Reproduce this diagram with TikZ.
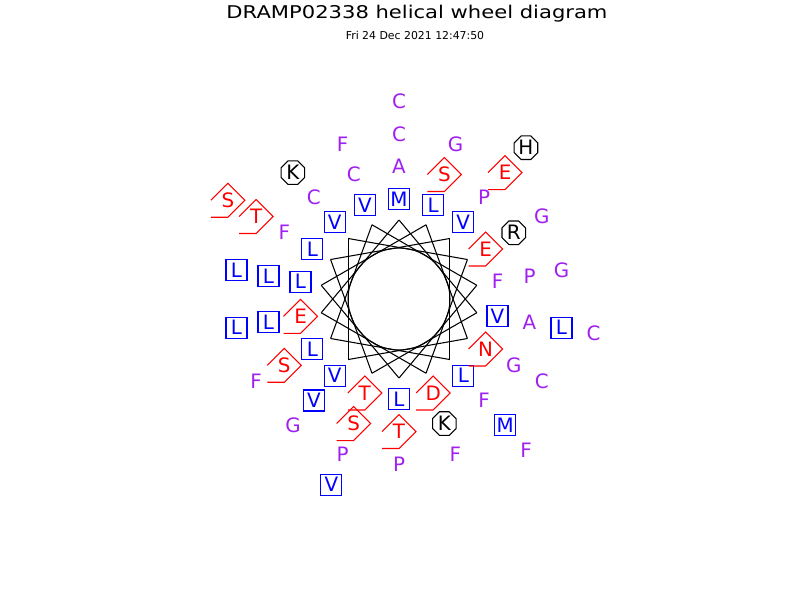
\documentclass[tikz,border=0pt]{standalone}
\usepackage{fontspec}
\setmainfont{DejaVu Sans}
\usepackage{tikz}
\usetikzlibrary{shapes.geometric}
\definecolor{resblue}{RGB}{0,0,255}
\definecolor{resred}{RGB}{255,0,0}
\definecolor{respurple}{RGB}{160,32,240}
\tikzset{
  every res/.style={
    font=\fontsize{11.3}{12}\selectfont,inner sep=0pt,line width=0.6pt,
  },
  hydres/.style={every res,draw=resblue,text=resblue,rectangle,minimum size=0.42cm},
  polres/.style={every res,text=resred},
  chgres/.style={every res,draw=black,text=black,regular polygon,regular polygon sides=8,minimum size=0.51cm},
  othres/.style={every res,text=respurple},
  polline/.style={draw=resred,line width=0.6pt},
}

\begin{document}
\begin{tikzpicture}[x=0.02cm,y=-0.02cm]
	\useasboundingbox (0,0) rectangle (800,600);
	\node (title) at (417,14) {\fontsize{10}{12}\selectfont\scalebox{1.2}[1]{DRAMP02338 helical wheel diagram}};
	\node (stamp) at (415,35) {\fontsize{6.2}{7}\selectfont Fri 24 Dec 2021 12:47:50};
	% star and circle in the middle
	\coordinate (ctr) at (399,299);
	\foreach \i in {0,...,17}
		\coordinate (w\i) at ({399+79*sin(100*\i)},{299-79*cos(100*\i)});
	\foreach \i [evaluate=\i as \j using {int(mod(\i+1,18))}] in {0,...,17}
		\draw[line width=0.6pt] (w\i) -- (w\j);
	\draw[line width=0.6pt] (ctr) circle[radius=1.02cm];
	% residues, 100 degrees apart
	\foreach \aa/\st [count=\i from 0, evaluate=\i as \ang using {100*\i}, evaluate=\i as \rad using {100+32.5*int(\i/18)}] in
		{M/hydres,V/hydres,T/polres,L/hydres,V/hydres,L/hydres,L/hydres,V/hydres,F/othres,
		 L/hydres,L/hydres,L/hydres,N/polres,V/hydres,V/hydres,E/polres,D/polres,E/polres,
		 A/othres,A/othres,S/polres,F/othres,P/othres,F/othres,S/polres,C/othres,P/othres,
		 T/polres,L/hydres,S/polres,G/othres,V/hydres,C/othres,R/chgres,K/chgres,L/hydres,
		 C/othres,L/hydres,P/othres,T/polres,E/polres,M/hydres,F/othres,F/othres,G/othres,
		 P/othres,L/hydres,G/othres,C/othres,G/othres,K/chgres,G/othres,F/othres,L/hydres,
		 C/othres,C/othres,V/hydres,S/polres,H/chgres,F/othres}
		\node[\st] (r\i) at ({399+\rad*sin(\ang)},{299-\rad*cos(\ang)}) {\aa};
	\foreach \i in {2,12,15,16,17,20,24,27,29,39,40,57}
		\draw[polline] ([shift={(-17,0)}]r\i.center) -- ++(17,-17) -- ++(17,17) -- ++(-17,17) -- ++(-17,0);
\end{tikzpicture}
\end{document}
